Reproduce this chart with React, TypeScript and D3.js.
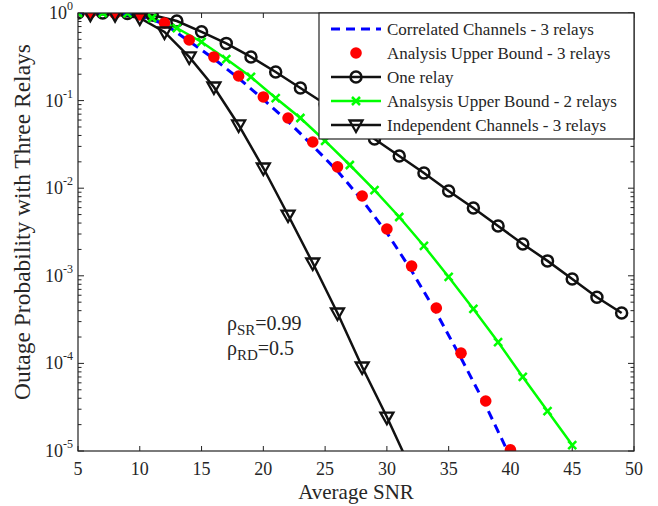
import React from "react";
import * as d3 from "d3";

const snrOne = [5, 7, 9, 11, 13, 15, 17, 19, 21, 23, 25, 27, 29, 31, 33, 35, 37, 39, 41, 43, 45, 47, 49];
const oneRelay = [1.0, 1.0, 0.99, 0.95, 0.81, 0.61, 0.45, 0.315, 0.212, 0.139, 0.0914, 0.057, 0.0365, 0.0233, 0.0149, 0.0093, 0.00594, 0.0037, 0.00231, 0.00148, 0.00092, 0.00057, 0.000376];

const snrTwo = [5, 7, 9, 11, 13, 15, 17, 19, 21, 23, 25, 27, 29, 31, 33, 35, 37, 39, 41, 43, 45];
const twoRelayBound = [1.0, 1.0, 0.99, 0.877, 0.674, 0.467, 0.298, 0.186, 0.107, 0.0633, 0.0346, 0.0184, 0.00953, 0.00469, 0.00219, 0.00097, 0.000418, 0.000175, 7.0e-5, 2.86e-5, 1.17e-5];

const snrEven = [6, 8, 10, 12, 14, 16, 18, 20, 22, 24, 26, 28, 30, 32, 34, 36, 38, 40];
const threeRelayBound = [1.0, 0.99, 0.95, 0.769, 0.492, 0.315, 0.191, 0.11, 0.0633, 0.0337, 0.0175, 0.00815, 0.00342, 0.00129, 0.000429, 0.000131, 3.72e-5, 1.03e-5];

const snrCorr = [5, 6, 8, 10, 12, 14, 16, 18, 20, 22, 24, 26, 28, 30, 32, 34, 36, 38, 40];
const correlated = [1.0, 1.0, 0.99, 0.93, 0.75, 0.475, 0.3, 0.18, 0.103, 0.058, 0.0305, 0.0157, 0.0073, 0.0031, 0.00114, 0.00038, 0.000115, 3.3e-5, 8.5e-6];

const snrInd = [6, 8, 10, 12, 14, 16, 18, 20, 22, 24, 26, 28, 30, 32];
const independent = [0.97, 0.96, 0.88, 0.607, 0.315, 0.143, 0.0527, 0.017, 0.00494, 0.0014, 0.000376, 9.1e-5, 2.44e-5, 6.0e-6];

const xTicks = [5, 10, 15, 20, 25, 30, 35, 40, 45, 50];
const yExponents = [0, -1, -2, -3, -4, -5];

const legendLabels = [
  "Correlated Channels - 3 relays",
  "Analysis Upper Bound - 3 relays",
  "One relay",
  "Analsysis Upper Bound - 2 relays",
  "Independent Channels - 3 relays",
];

const W = 658;
const H = 506;
const L = 78;
const R = 634;
const T = 13;
const B = 451;
const FONT = "Liberation Serif, Times New Roman, serif";

const x = d3.scaleLinear().domain([5, 50]).range([L, R]);
const y = d3.scaleLog().domain([1e-5, 1]).range([B, T]);

const BLUE = "#0000ff";
const RED = "#ff0000";
const GREEN = "#00ff00";
const BLACK = "#111111";
const TXT = "#262626";

function pts(xs: number[], ys: number[]): [number, number][] {
  return xs.map((v, i) => [x(v), y(ys[i])] as [number, number]);
}

const lineGen = d3.line<[number, number]>().x((d) => d[0]).y((d) => d[1]);

const Circle = ({ cx, cy }: { cx: number; cy: number }) => (
  <circle cx={cx} cy={cy} r={5.5} fill="none" stroke={BLACK} strokeWidth={2.5} />
);
const Tri = ({ cx, cy }: { cx: number; cy: number }) => (
  <path d={`M${cx - 6.5},${cy - 4.5}L${cx + 6.5},${cy - 4.5}L${cx},${cy + 7}Z`} fill="none" stroke={BLACK} strokeWidth={2.3} strokeLinejoin="miter" />
);
const Cross = ({ cx, cy }: { cx: number; cy: number }) => (
  <path d={`M${cx - 4},${cy - 4}L${cx + 4},${cy + 4}M${cx - 4},${cy + 4}L${cx + 4},${cy - 4}`} stroke={GREEN} strokeWidth={2.5} />
);
const Dot = ({ cx, cy }: { cx: number; cy: number }) => <circle cx={cx} cy={cy} r={5.8} fill={RED} />;

export default function App() {
  const one = pts(snrOne, oneRelay);
  const two = pts(snrTwo, twoRelayBound);
  const red = pts(snrEven, threeRelayBound);
  const corr = pts(snrCorr, correlated);
  const ind = pts(snrInd, independent);

  const minor: number[] = [];
  for (let e = -5; e < 0; e++) {
    for (let m = 2; m <= 9; m++) minor.push(m * Math.pow(10, e));
  }

  const legX0 = 319;
  const legY0 = 13;
  const legW = R - legX0;
  const legH = 126;
  const rowY = (i: number) => legY0 + 16 + i * 24;
  const sx1 = 331;
  const sx2 = 381;
  const smid = (sx1 + sx2) / 2;

  return (
    <svg width={W} height={H} style={{ position: "absolute", left: 0, top: 0, background: "#fff" }}>
      <defs>
        <clipPath id="plotClip">
          <rect x={L} y={T} width={R - L} height={B - T} />
        </clipPath>
      </defs>
      <rect x={0} y={0} width={W} height={H} fill="#fff" />

      {/* ticks */}
      <g stroke="#222" strokeWidth={1}>
        {xTicks.map((t) => (
          <g key={"xt" + t}>
            <line x1={x(t)} x2={x(t)} y1={B} y2={B - 5} />
            <line x1={x(t)} x2={x(t)} y1={T} y2={T + 5} />
          </g>
        ))}
        {yExponents.map((e) => (
          <g key={"yt" + e}>
            <line x1={L} x2={L + 6} y1={y(Math.pow(10, e))} y2={y(Math.pow(10, e))} />
            <line x1={R} x2={R - 6} y1={y(Math.pow(10, e))} y2={y(Math.pow(10, e))} />
          </g>
        ))}
        {minor.map((v, i) => (
          <g key={"ym" + i}>
            <line x1={L} x2={L + 3.5} y1={y(v)} y2={y(v)} />
            <line x1={R} x2={R - 3.5} y1={y(v)} y2={y(v)} />
          </g>
        ))}
      </g>

      {/* series */}
      <g clipPath="url(#plotClip)">
        <path d={lineGen(one) || ""} fill="none" stroke={BLACK} strokeWidth={2.5} />
        <path d={lineGen(ind) || ""} fill="none" stroke={BLACK} strokeWidth={2.5} />
        <path d={lineGen(two) || ""} fill="none" stroke={GREEN} strokeWidth={2.5} />
        <path d={lineGen(corr) || ""} fill="none" stroke={BLUE} strokeWidth={3} strokeDasharray="9,6" />
        {red.map((p, i) => <Dot key={"r" + i} cx={p[0]} cy={p[1]} />)}
        {one.map((p, i) => <Circle key={"c" + i} cx={p[0]} cy={p[1]} />)}
        {ind.map((p, i) => <Tri key={"t" + i} cx={p[0]} cy={p[1]} />)}
        {two.map((p, i) => <Cross key={"g" + i} cx={p[0]} cy={p[1]} />)}
      </g>

      {/* axes box */}
      <rect x={L} y={T} width={R - L} height={B - T} fill="none" stroke="#222" strokeWidth={1.2} />

      {/* tick labels */}
      <g>
        {xTicks.map((t) => (
          <text key={"xl" + t} x={x(t)} y={475} textAnchor="middle" fontFamily={FONT} fontSize={18} fill={TXT}>{t}</text>
        ))}
        {yExponents.map((e) => (
          <text key={"yl" + e} x={73} y={y(Math.pow(10, e)) + 6} textAnchor="end" fontFamily={FONT} fontSize={18} fill={TXT}>
            10<tspan fontSize={12} dy={-9}>{e === 0 ? "0" : "-" + Math.abs(e)}</tspan>
          </text>
        ))}
      </g>

      {/* axis labels */}
      <text x={(L + R) / 2} y={499} textAnchor="middle" fontFamily={FONT} fontSize={21} fill={TXT}>Average SNR</text>
      <text transform={`translate(30,222) rotate(-90)`} textAnchor="middle" fontFamily={FONT} fontSize={23.5} fill={TXT}>
        Outage Probability with Three Relays
      </text>

      {/* annotation */}
      <g>
        <text x={227} y={330} fontFamily={FONT} fontSize={20} fill={TXT}>
          ρ<tspan fontSize={15} dy={5}>SR</tspan><tspan dy={-5}>=0.99</tspan>
        </text>
        <text x={227} y={355} fontFamily={FONT} fontSize={20} fill={TXT}>
          ρ<tspan fontSize={15} dy={5}>RD</tspan><tspan dy={-5}>=0.5</tspan>
        </text>
      </g>

      {/* legend */}
      <g>
        <rect x={legX0} y={legY0} width={legW} height={legH} fill="#fff" stroke="#222" strokeWidth={1.2} />
        <line x1={sx1} x2={sx2} y1={rowY(0)} y2={rowY(0)} stroke={BLUE} strokeWidth={3} strokeDasharray="9,6" />
        <Dot cx={smid} cy={rowY(1)} />
        <line x1={sx1} x2={sx2} y1={rowY(2)} y2={rowY(2)} stroke={BLACK} strokeWidth={2.5} />
        <Circle cx={smid} cy={rowY(2)} />
        <line x1={sx1} x2={sx2} y1={rowY(3)} y2={rowY(3)} stroke={GREEN} strokeWidth={2.5} />
        <Cross cx={smid} cy={rowY(3)} />
        <line x1={sx1} x2={sx2} y1={rowY(4)} y2={rowY(4)} stroke={BLACK} strokeWidth={2.5} />
        <Tri cx={smid} cy={rowY(4)} />
        {legendLabels.map((s, i) => (
          <text key={"lg" + i} x={387} y={rowY(i) + 6} fontFamily={FONT} fontSize={17} fill={TXT}>{s}</text>
        ))}
      </g>
    </svg>
  );
}
